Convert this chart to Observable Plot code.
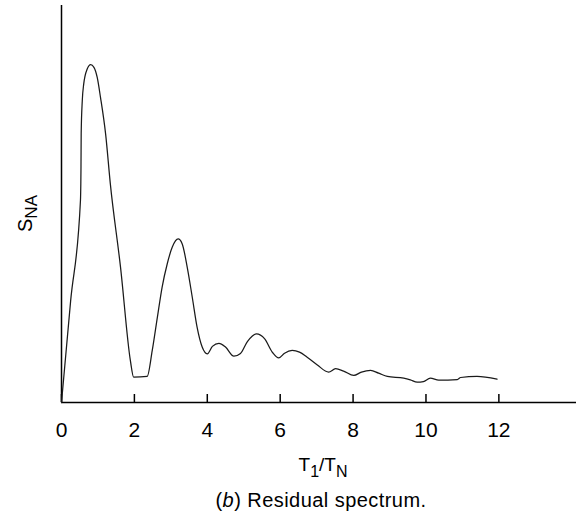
<!DOCTYPE html>
<html><head><meta charset="utf-8">
<script src="https://cdn.jsdelivr.net/npm/d3@7"></script>
<script src="https://cdn.jsdelivr.net/npm/@observablehq/plot@0.6"></script>
<style>
html,body{margin:0;padding:0;background:#fff;}
figure{margin:0 !important;}
figcaption{font-family:"Liberation Sans",Arial,sans-serif !important;font-size:20px !important;color:#000 !important;text-align:center;padding-left:66px;margin-top:1px;letter-spacing:0.45px;line-height:normal;}
</style></head><body><div id="chart"></div>
<script>
// T1/TN ratio (x) and residual spectrum amplitude S_NA (y, arbitrary units, peak = 1)
const ratio = [0, 0.25, 0.52, 0.535, 0.54, 0.57, 0.61, 0.705, 0.80, 0.89, 0.98, 1.07, 1.21, 1.34, 1.62, 1.89, 1.98,
  2.35, 2.49, 2.63, 2.76, 2.90, 3.04, 3.20, 3.31, 3.45, 3.59, 3.72, 3.86, 4.0, 4.14, 4.32, 4.5, 4.73, 4.91,
  5.10, 5.35, 5.57, 5.79, 5.96, 6.12, 6.33, 6.53, 6.74, 7.02, 7.33, 7.52, 7.74, 8.02, 8.23, 8.48, 8.70,
  8.94, 9.39, 9.57, 9.76, 9.93, 10.12, 10.35, 10.86, 10.95, 11.40, 11.95];
const sna = [0, 0.30, 0.598, 0.70, 0.796, 0.893, 0.943, 0.987, 1.0, 0.992, 0.962, 0.903, 0.795, 0.647, 0.40, 0.124, 0.075,
  0.077, 0.154, 0.252, 0.341, 0.41, 0.46, 0.484, 0.47, 0.40, 0.31, 0.223, 0.164, 0.144, 0.166, 0.175, 0.164, 0.137, 0.145,
  0.18, 0.203, 0.189, 0.148, 0.132, 0.146, 0.154, 0.149, 0.134, 0.111, 0.090, 0.10, 0.093, 0.080, 0.090, 0.095, 0.087,
  0.077, 0.072, 0.067, 0.060, 0.062, 0.072, 0.066, 0.068, 0.074, 0.077, 0.069];
const xTicks = [0, 2, 4, 6, 8, 10, 12];
const xLabelParts = [["T", false], ["1", true], ["/", false], ["T", false], ["N", true]];
const yLabelParts = [["S", false], ["NA", true]];
const captionParts = [["(", false], ["b", true], [") Residual spectrum.", false]];

const FONT = '"Liberation Sans", Arial, sans-serif';
const data = ratio.map((r, i) => ({r, s: sna[i]}));

const cap = document.createElement("span");
for (const [t, it] of captionParts) {
  if (it) { const e = document.createElement("i"); e.textContent = t; cap.append(e); }
  else cap.append(t);
}

const plot = Plot.plot({
  width: 576, height: 488,
  marginTop: 5, marginBottom: 86, marginLeft: 61, marginRight: 0,
  style: {fontFamily: FONT, background: "#fff", color: "#000"},
  x: {domain: [0, 14.13]},
  y: {domain: [0, 1.175], axis: null},
  marks: [
    Plot.ruleY([0], {stroke: "#000", strokeWidth: 1.5}),
    Plot.ruleX([0], {stroke: "#000", strokeWidth: 1.5}),
    Plot.axisX(xTicks, {tickSize: -8, tickPadding: 28, fontSize: 21, label: null, strokeWidth: 1.5}),
    Plot.line(data, {x: "r", y: "s", curve: "monotone-x", stroke: "#1a1a1a", strokeWidth: 1.25})
  ],
  caption: cap
});
document.getElementById("chart").append(plot);

const svg = plot.tagName.toLowerCase() === "svg" ? plot : plot.querySelector("svg");
const g = d3.select(svg).append("g").attr("font-family", FONT).attr("fill", "#000");

// x label T1/TN
const xl = g.append("text").attr("x", 323).attr("y", 470.7).attr("text-anchor", "middle").attr("font-size", 19);
let prevSub = false;
for (const [t, sub] of xLabelParts) {
  const ts = xl.append("tspan").text(t).attr("font-size", sub ? 16 : 19);
  const dy = (sub ? 6 : 0) - (prevSub ? 6 : 0);
  if (dy) ts.attr("dy", dy);
  prevSub = sub;
}
// y label S_NA
const yl = g.append("text").attr("transform", "translate(31.5,213.5) rotate(-90)").attr("text-anchor", "middle");
prevSub = false;
for (const [t, sub] of yLabelParts) {
  const ts = yl.append("tspan").text(t).attr("font-size", sub ? 17 : 20);
  const dy = (sub ? 5 : 0) - (prevSub ? 5 : 0);
  if (dy) ts.attr("dy", dy);
  prevSub = sub;
}
</script></body></html>
